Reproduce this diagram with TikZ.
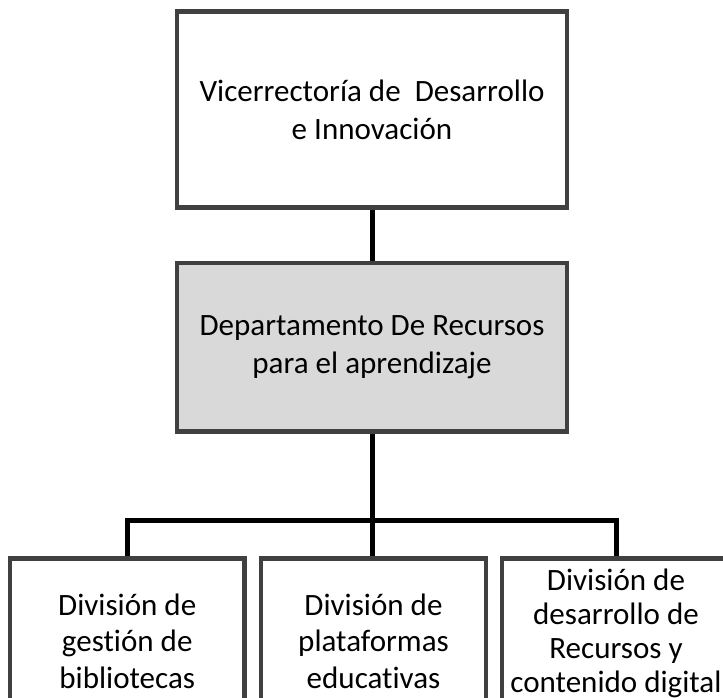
\documentclass[tikz,border=0pt]{standalone}
\usepackage{fontspec}
\setmainfont{Carlito}[Ligatures=NoCommon]
\usetikzlibrary{positioning,backgrounds}
\definecolor{boxline}{HTML}{404040}
\definecolor{boxfill}{HTML}{D9D9D9}
\tikzset{
  unit/.style={
    draw = boxline,
    line width = 0.135cm,
    fill = white,
    align = center,
    inner sep = 0pt,
    font = \fontsize{26.5}{32.4}\selectfont
  },
  division/.style={
    unit,
    anchor = north,
    minimum height = 4.98cm,
    font = \fontsize{26.5}{31.5}\selectfont
  },
  link/.style={
    line width = 0.15cm
  }
}
\begin{document}
\begin{tikzpicture}
    \clip (0,0) rectangle (21.69,-20.91);
    \node[unit, minimum width=11.7cm, minimum height=5.88cm] (vice) at (11.16,-3.285) {Vicerrectoría de~~Desarrollo\\e Innovación};
    \node[unit, fill=boxfill, minimum width=11.7cm, minimum height=5.055cm] (dept) at (11.16,-10.42) {Departamento De Recursos\\para el aprendizaje};
    \node[division, minimum width=7.035cm] (bib) at (3.8175,-16.68) {División de\\gestión de\\bibliotecas};
    \node[division, minimum width=6.75cm] (plat) at (11.205,-16.68) {División de\\plataformas\\educativas};
    \node[division, minimum width=6.84cm, minimum height=4.5cm, font=\fontsize{26.5}{29}\selectfont] (cont) at (18.48,-16.68) {División de\\desarrollo de\\Recursos y\\contenido digital};
    \coordinate (bus) at (11.16,-15.6);
    % connectors go behind the boxes
    \begin{scope}[on background layer]
        \draw[link] (vice) -- (dept);
        \draw[link] (dept) -- (bus);
        \draw[link] (bib.north) |- (bus) -| (cont.north);
        \draw[link] (bus) -- (bus |- plat.north);
    \end{scope}
\end{tikzpicture}
\end{document}
